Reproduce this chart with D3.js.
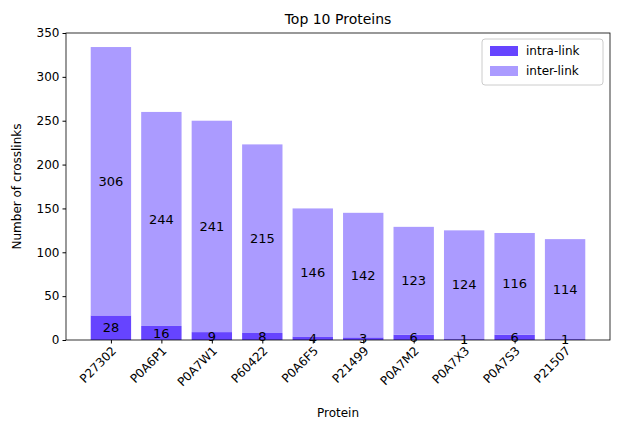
<!DOCTYPE html>
<html><head><meta charset="utf-8">
<script src="https://cdn.jsdelivr.net/npm/d3@7"></script>
<style>body{margin:0;background:#fff}text{font-family:"DejaVu Sans",sans-serif}</style>
</head><body><svg id="c" width="618" height="430"></svg>
<script>
const proteins=["P27302","P0A6P1","P0A7W1","P60422","P0A6F5","P21499","P0A7M2","P0A7X3","P0A7S3","P21507"];
const intra=[28,16,9,8,4,3,6,1,6,1];
const inter=[306,244,241,215,146,142,123,124,116,114];
const yTicks=[0,50,100,150,200,250,300,350];
const cIntra="#6644ff",cInter="#ab9bff";
const svg=d3.select("#c");
const L=66,R=610,T=33,B=340;
const x=d3.scaleLinear().domain([-0.89,9.89]).range([L,R]);
const y=d3.scaleLinear().domain([0,350]).range([B,T]);
const bw=x(0.8)-x(0);
const g=svg.append("g");
proteins.forEach((p,i)=>{
  g.append("rect").attr("x",x(i)-bw/2).attr("width",bw).attr("y",y(intra[i])).attr("height",y(0)-y(intra[i])).attr("fill",cIntra);
  g.append("rect").attr("x",x(i)-bw/2).attr("width",bw).attr("y",y(intra[i]+inter[i])).attr("height",y(0)-y(inter[i])).attr("fill",cInter);
  g.append("text").attr("x",x(i)).attr("y",y(intra[i]/2)).attr("dy","0.35em").attr("text-anchor","middle").attr("font-size",13).text(intra[i]);
  g.append("text").attr("x",x(i)).attr("y",y(intra[i]+inter[i]/2)).attr("dy","0.35em").attr("text-anchor","middle").attr("font-size",13).text(inter[i]);
});
const xa=svg.append("g").attr("transform",`translate(0,${B})`).call(d3.axisBottom(x).tickValues(d3.range(10)).tickFormat(i=>proteins[i]).tickSizeOuter(0).tickSize(3.5));
xa.selectAll("text").attr("font-size",12).attr("text-anchor","end").attr("dy","0.3em").attr("transform",function(){return "translate(-2,6) rotate(-45)";}).attr("y",0).attr("x",0);
// reposition rotated labels
xa.selectAll(".tick text").attr("transform","translate(3,9) rotate(-45)");
const ya=svg.append("g").attr("transform",`translate(${L},0)`).call(d3.axisLeft(y).tickValues(yTicks).tickSizeOuter(0).tickSize(3.5));
ya.selectAll("text").attr("font-size",12);
svg.selectAll(".domain").remove();
svg.append("rect").attr("x",L).attr("y",T).attr("width",R-L).attr("height",B-T).attr("fill","none").attr("stroke","#000").attr("stroke-width",0.8);
svg.append("text").attr("x",(L+R)/2).attr("y",24).attr("text-anchor","middle").attr("font-size",14).text("Top 10 Proteins");
svg.append("text").attr("x",(L+R)/2).attr("y",417).attr("text-anchor","middle").attr("font-size",12).text("Protein");
svg.append("text").attr("transform",`translate(21,${(T+B)/2}) rotate(-90)`).attr("text-anchor","middle").attr("font-size",12).text("Number of crosslinks");
const lg=svg.append("g").attr("transform","translate(482,39)");
lg.append("rect").attr("width",121).attr("height",46).attr("rx",3).attr("fill","#fff").attr("fill-opacity",0.8).attr("stroke","#ccc");
[["intra-link",cIntra],["inter-link",cInter]].forEach((d,i)=>{
  lg.append("rect").attr("x",8).attr("y",7+i*20).attr("width",28).attr("height",10).attr("fill",d[1]);
  lg.append("text").attr("x",44).attr("y",16+i*20).attr("font-size",12).text(d[0]);
});
</script></body></html>
